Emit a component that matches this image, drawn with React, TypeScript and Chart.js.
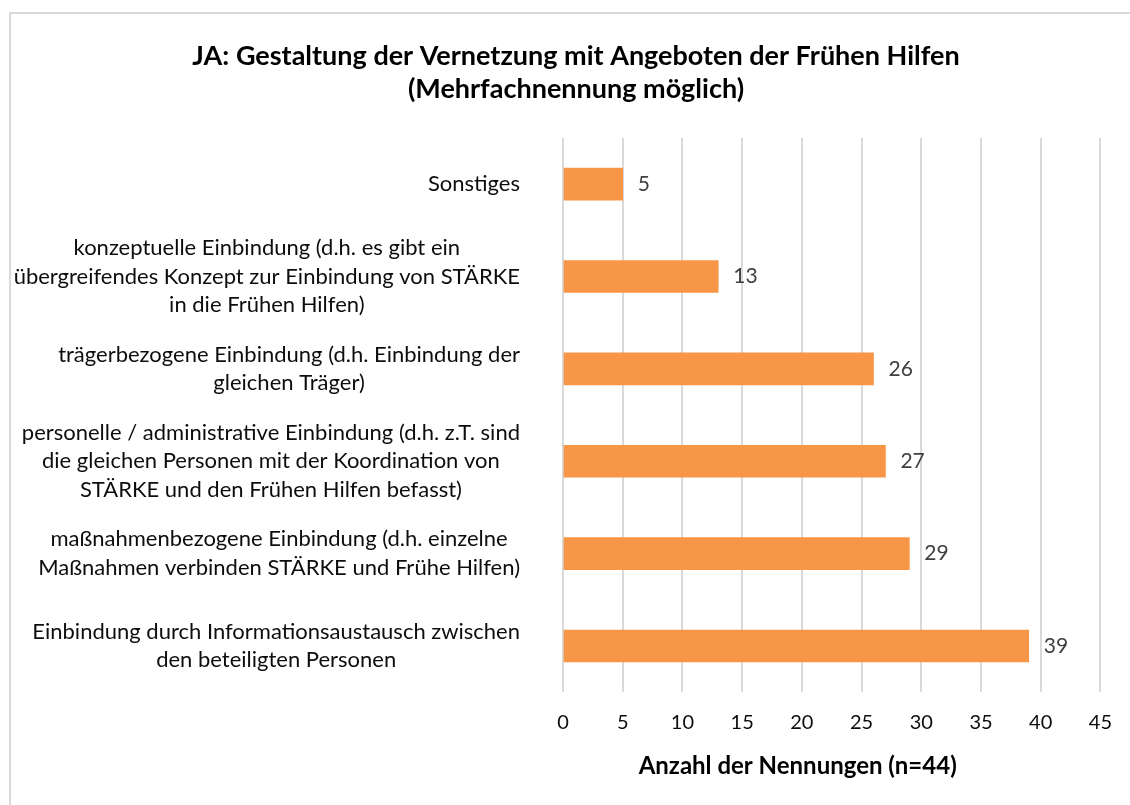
import React, { useEffect, useRef } from "react";
import { Chart, registerables } from "chart.js";

Chart.register(...registerables);

const titleLines = [
  "JA: Gestaltung der Vernetzung mit Angeboten der Frühen Hilfen",
  "(Mehrfachnennung möglich)",
];

const categories: string[][] = [
  ["Sonstiges"],
  [
    "konzeptuelle Einbindung (d.h. es gibt ein",
    "übergreifendes Konzept zur Einbindung von STÄRKE",
    "in die Frühen Hilfen)",
  ],
  ["trägerbezogene Einbindung (d.h. Einbindung der", "gleichen Träger)"],
  [
    "personelle / administrative Einbindung (d.h. z.T. sind",
    "die gleichen Personen mit der Koordination von",
    "STÄRKE und den Frühen Hilfen befasst)",
  ],
  [
    "maßnahmenbezogene Einbindung (d.h. einzelne",
    "Maßnahmen verbinden STÄRKE und Frühe Hilfen)",
  ],
  ["Einbindung durch Informationsaustausch zwischen", "den beteiligten Personen"],
];

const counts = [5, 13, 26, 27, 29, 39];

const xAxisTitle = "Anzahl der Nennungen (n=44)";
const xMin = 0;
const xMax = 45;
const xStep = 5;

const FONT = "Lato, 'Open Sans', sans-serif";
const BAR_COLOR = "#F79646";
const AXIS_TITLE_FONT = { family: FONT, size: 24, weight: "bold" as const, lineHeight: 1.2 };

const framePlugin = {
  id: "frame",
  beforeDraw(chart: any) {
    const { ctx, width, height } = chart;
    ctx.save();
    ctx.fillStyle = "#ffffff";
    ctx.fillRect(0, 0, width, height);
    ctx.strokeStyle = "#d9d9d9";
    ctx.lineWidth = 2;
    ctx.strokeRect(10, 13, width + 50, height + 50);
    ctx.restore();
  },
};

const labelPlugin = {
  id: "catLabels",
  afterDraw(chart: any) {
    const { ctx, chartArea } = chart;
    const yScale = chart.scales.y;
    const xScale = chart.scales.x;
    ctx.save();
    // category labels: block right-aligned, lines centered within block
    ctx.font = `22px ${FONT}`;
    ctx.fillStyle = "#0d0d0d";
    ctx.textAlign = "center";
    ctx.textBaseline = "middle";
    const lh = 28.5;
    const right = chartArea.left - 43;
    categories.forEach((lines, i) => {
      const cy = yScale.getPixelForTick(i);
      const w = Math.max(...lines.map((l) => ctx.measureText(l).width));
      const cx = right - w / 2;
      const startY = cy - ((lines.length - 1) * lh) / 2;
      lines.forEach((l, j) => ctx.fillText(l, cx, startY + j * lh));
    });
    // data labels
    const meta = chart.getDatasetMeta(0);
    ctx.font = `21px ${FONT}`;
    ctx.fillStyle = "#404040";
    ctx.textAlign = "left";
    meta.data.forEach((bar: any, i: number) => {
      const xEnd = xScale.getPixelForValue(counts[i]);
      ctx.fillText(String(counts[i]), xEnd + 15, bar.y);
    });
    // x axis title (slightly left of plot centre, as in the original)
    ctx.font = `bold 24px ${FONT}`;
    ctx.fillStyle = "#000000";
    ctx.textAlign = "center";
    const titleY = xScale.bottom - (AXIS_TITLE_FONT.size * AXIS_TITLE_FONT.lineHeight) / 2;
    ctx.fillText(xAxisTitle, (chartArea.left + chartArea.right) / 2 - 34, titleY);
    ctx.restore();
  },
};

export default function App() {
  const ref = useRef<HTMLCanvasElement | null>(null);
  useEffect(() => {
    if (!ref.current) return;
    const chart = new Chart(ref.current, {
      type: "bar",
      data: {
        labels: categories.map((c) => c.join(" ")),
        datasets: [
          {
            data: counts,
            backgroundColor: BAR_COLOR,
            borderWidth: 0,
            barThickness: 32,
          },
        ],
      },
      options: {
        indexAxis: "y",
        responsive: false,
        animation: false,
        layout: { padding: { left: 50, right: 28, top: 22, bottom: 24 } },
        plugins: {
          legend: { display: false },
          tooltip: { enabled: false },
          title: {
            display: true,
            text: titleLines,
            color: "#000000",
            font: { family: FONT, size: 27, weight: "bold", lineHeight: 1.222 },
            padding: { top: 18, bottom: 32 },
          },
        },
        scales: {
          x: {
            min: xMin,
            max: xMax,
            ticks: {
              stepSize: xStep,
              color: "#0d0d0d",
              font: { family: FONT, size: 20 },
              padding: 18,
            },
            grid: { color: "#d9d9d9", lineWidth: 2, drawTicks: false },
            border: { display: false },
            title: {
              display: true,
              text: xAxisTitle,
              color: "rgba(0,0,0,0)",
              font: AXIS_TITLE_FONT,
              padding: { top: 0, bottom: 0 },
            },
          },
          y: {
            ticks: { display: false },
            grid: { display: false },
            border: { display: false },
            afterFit(scale: any) {
              scale.width = 513;
            },
          },
        },
      },
      plugins: [framePlugin, labelPlugin],
    });
    return () => chart.destroy();
  }, []);
  return (
    <div style={{ position: "absolute", left: 0, top: 0, width: 1130, height: 805 }}>
      <canvas ref={ref} width={1130} height={805} style={{ display: "block" }} />
    </div>
  );
}
